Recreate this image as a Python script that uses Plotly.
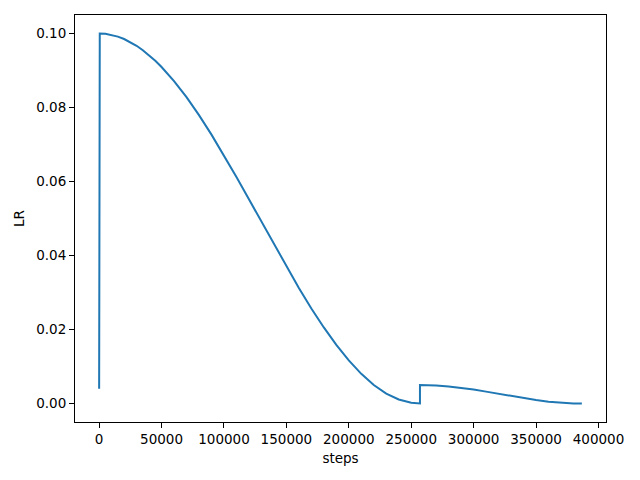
import plotly.graph_objects as go

steps = [0, 500, 5000, 10000, 15000, 20000, 25000, 30000, 35000, 40000, 45000,
         50000, 55000, 60000, 70000, 80000, 90000,
         100000, 110000, 120000, 130000, 140000, 150000, 160000, 170000, 180000,
         190000, 200000, 210000, 220000, 230000, 240000, 250000, 257000,
         257001, 265000, 270000, 280000, 290000, 300000, 310000, 320000, 330000, 340000,
         350000, 360000, 370000, 380000, 386700]
lr = [0.004, 0.1, 0.09991, 0.09963, 0.09916, 0.09851, 0.09768, 0.09668, 0.09549,
      0.09414, 0.09262, 0.09095, 0.08912,
      0.08715, 0.08279, 0.07794, 0.07267, 0.06707, 0.06121, 0.05519, 0.04909,
      0.04300, 0.03701, 0.03120, 0.02566, 0.02056, 0.01586, 0.01165, 0.00801,
      0.00499, 0.00266, 0.00108, 0.00018, 0.0,
      0.005, 0.00495, 0.00488, 0.00462, 0.00424, 0.00376, 0.00321, 0.00261,
      0.00201, 0.00143, 0.00093, 0.00050, 0.00020, 0.00003, 0.0]

x_ticks = [0, 50000, 100000, 150000, 200000, 250000, 300000, 350000, 400000]
y_ticks = [0.0, 0.02, 0.04, 0.06, 0.08, 0.10]
y_tick_text = ["0.00", "0.02", "0.04", "0.06", "0.08", "0.10"]

fig = go.Figure()
fig.add_trace(go.Scatter(x=steps, y=lr, mode="lines",
                         line=dict(color="#1f77b4", width=2),
                         showlegend=False))

axis_common = dict(showgrid=False, zeroline=False, showline=True, linecolor="black",
                   linewidth=1, mirror=True, ticks="outside", ticklen=5,
                   tickcolor="black", tickwidth=1, automargin=False,
                   tickfont=dict(family="DejaVu Sans", size=13.5, color="black"))

fig.update_layout(
    width=640, height=480,
    margin=dict(l=75, r=34, t=15, b=58),
    plot_bgcolor="white", paper_bgcolor="white",
    font=dict(family="DejaVu Sans", size=13.5, color="black"),
    xaxis=dict(range=[-19335, 406035], tickvals=x_ticks,
               ticktext=[str(v) for v in x_ticks],
               title=dict(text="steps", standoff=7,
                          font=dict(family="DejaVu Sans", size=13.5)), **axis_common),
    yaxis=dict(range=[-0.005, 0.105], tickvals=y_ticks, ticktext=y_tick_text,
               title=dict(text="LR", standoff=8,
                          font=dict(family="DejaVu Sans", size=13.5)), **axis_common),
)

fig.write_html("out.html", config={"displayModeBar": False},
               post_script="document.body.style.margin='0';document.body.style.padding='0';")
